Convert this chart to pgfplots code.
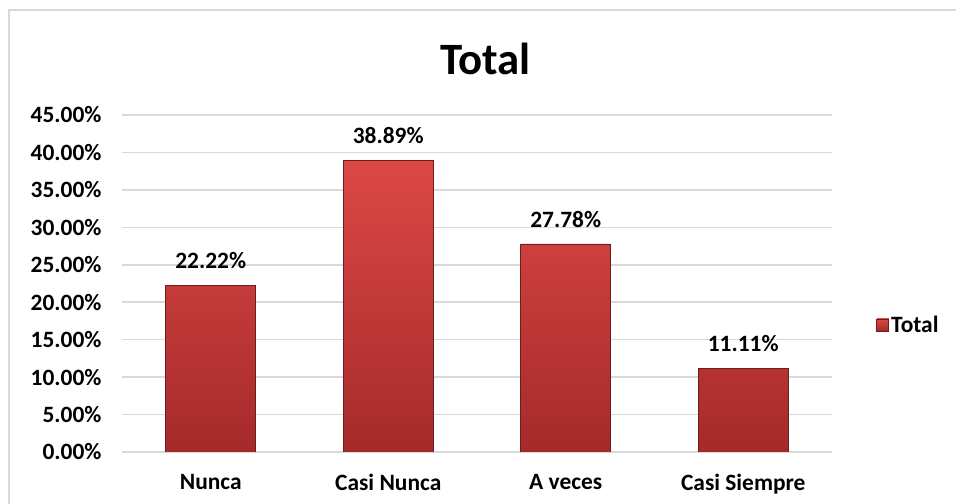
\documentclass[border=0pt]{standalone}
\usepackage{pgfplots}
\pgfplotsset{compat=1.18}
\usepackage{fontspec}
\setmainfont{Carlito}
\definecolor{barTop}{RGB}{220,72,70}
\definecolor{barBot}{RGB}{165,42,42}
\definecolor{barEdge}{RGB}{110,28,28}
\definecolor{gridGray}{RGB}{217,217,217}
\definecolor{frameGray}{RGB}{217,217,217}

\begin{document}
\begin{tikzpicture}[x=1bp,y=1bp]
\useasboundingbox (0,0) rectangle (956,504);
\draw[frameGray, line width=2bp] (9,-20) -- (9,494) -- (980,494);
\begin{axis}[
    at={(122bp,52bp)}, anchor=south west,
    scale only axis,
    width=710bp, height=337bp,
    ybar,
    bar width=90bp,
    xmin=-0.5, xmax=3.5,
    ymin=0, ymax=45,
    xtick={0,1,2,3},
    xticklabels={Nunca, Casi Nunca, A veces, Casi Siempre},
    ytick={0,5,...,45},
    yticklabel={\pgfmathprintnumber[fixed,fixed zerofill,precision=2]{\tick}\%},
    /pgf/number format/assume math mode=true,
    axis line style={draw=none},
    major tick length=0pt,
    ymajorgrids,
    grid style={gridGray, line width=1.5bp},
    ticklabel style={font=\fontsize{23.5}{26}\selectfont\bfseries},
    yticklabel style={xshift=-17bp},
    xticklabel style={yshift=-19bp},
    nodes near coords={\pgfmathprintnumber[fixed,fixed zerofill,precision=2]{\pgfplotspointmeta}\%},
    nodes near coords style={font=\fontsize{23.5}{26}\selectfont\bfseries, yshift=13bp},
    title={\fontsize{45}{50}\selectfont\bfseries Total},
    title style={at={(0.512,1)}, yshift=31bp},
    legend style={at={(1.058,0.377)}, anchor=west, draw=none, fill=none,
        font=\fontsize{23.5}{26}\selectfont\bfseries},
    legend image code/.code={\fill[barTop, draw=barEdge] (0bp,-6bp) rectangle (12bp,6bp);},
]
\addplot[top color=barTop, bottom color=barBot, draw=barEdge, line width=0.8bp]
    coordinates {(0,22.22) (1,38.89) (2,27.78) (3,11.11)};
\addlegendentry{Total}
\end{axis}
\end{tikzpicture}
\end{document}
